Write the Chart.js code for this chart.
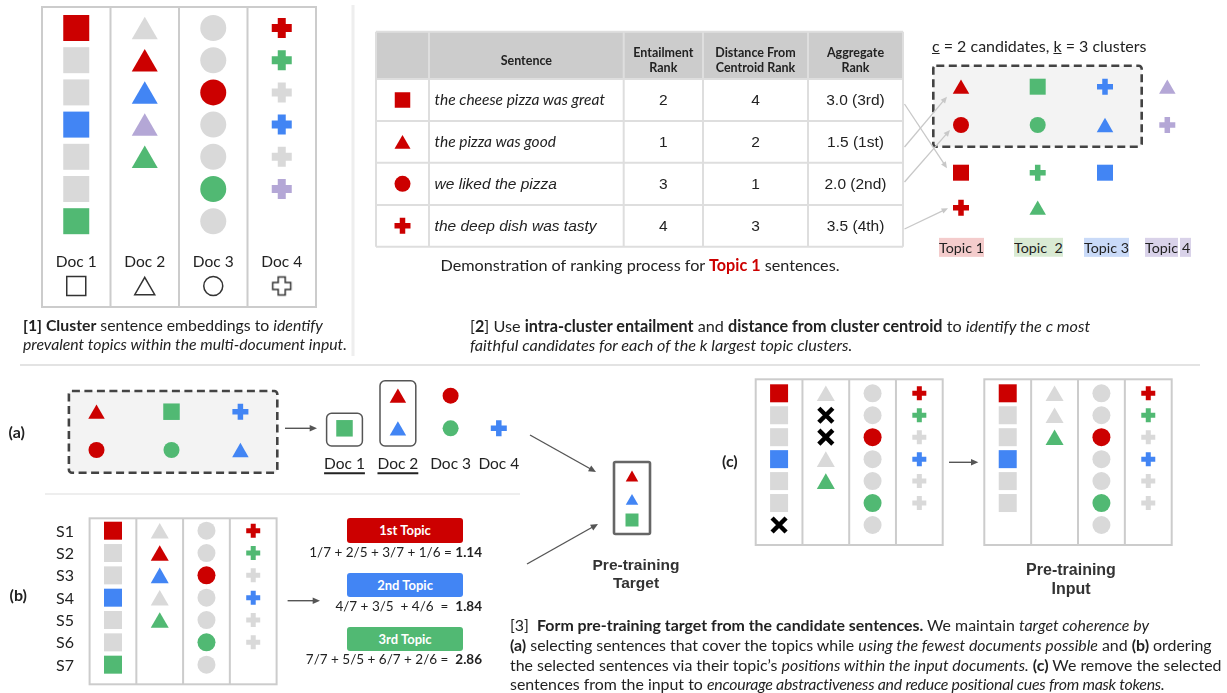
<!DOCTYPE html>
<html>
<head>
<meta charset="utf-8">
<script src="https://cdn.jsdelivr.net/npm/chart.js@4.4.0/dist/chart.umd.min.js"></script>
<style>
  html, body { margin: 0; padding: 0; background: #fff; }
  #wrap { position: relative; width: 1227px; height: 693px; overflow: hidden; font-family: Lato, sans-serif; color: #222; }
  #c { position: absolute; left: 0; top: 0; z-index: 1; }
  #txt { position: absolute; left: 0; top: 0; width: 1227px; height: 693px; z-index: 2; }
  .t { position: absolute; white-space: pre; line-height: 1; }
  .badge { position: absolute; color: #fff; font-weight: bold; font-size: 13px; text-align: center; border-radius: 3px; }
  .tag { padding: 1px 0; }
</style>
</head>
<body>
<div id="wrap">
  <canvas id="c" width="1227" height="693"></canvas>
  <div id="txt"></div>
</div>
<script>
(function () {
  'use strict';

  // ── Colours ──
  var COLORS = {
    r: '#cc0000',   // topic 1
    g: '#51b973',   // topic 2
    b: '#4285f4',   // topic 3
    p: '#b4a7d6',   // topic 4
    n: '#d9d9d9',   // no topic
    x: '#000000',   // removed sentence
    grid: '#cccccc',
    dash: '#434343',
    arrow: '#555555',
    link: '#c8c8c8'
  };

  // ── Data ──
  var DOC_NAMES = ['Doc 1', 'Doc 2', 'Doc 3', 'Doc 4'];
  var DOC_SHAPES = ['square', 'triangle', 'circle', 'plus'];

  // topic of each sentence, one list per document (r,g,b,p = topics, n = none, x = removed)
  var INPUT_DOCS = [
    ['r', 'n', 'n', 'b', 'n', 'n', 'g'],
    ['n', 'r', 'b', 'p', 'g'],
    ['n', 'n', 'r', 'n', 'n', 'g', 'n'],
    ['r', 'g', 'n', 'b', 'n', 'p']
  ];
  var RANKED_DOCS = [
    ['r', 'n', 'n', 'b', 'n', 'n', 'g'],
    ['n', 'r', 'b', 'n', 'g'],
    ['n', 'n', 'r', 'n', 'n', 'g', 'n'],
    ['r', 'g', 'n', 'b', 'n', 'n']
  ];
  var MASKED_DOCS = [
    ['r', 'n', 'n', 'b', 'n', 'n', 'x'],
    ['n', 'x', 'x', 'n', 'g'],
    ['n', 'n', 'r', 'n', 'n', 'g', 'n'],
    ['r', 'g', 'n', 'b', 'n', 'n']
  ];
  var REMAINING_DOCS = [
    ['r', 'n', 'n', 'b', 'n', 'n'],
    ['n', 'n', 'g'],
    ['n', 'n', 'r', 'n', 'n', 'g', 'n'],
    ['r', 'g', 'n', 'b', 'n', 'n']
  ];
  var SENT_LABELS = ['S1', 'S2', 'S3', 'S4', 'S5', 'S6', 'S7'];

  // ranking table for topic 1
  var TABLE_HEAD = ['', 'Sentence', 'Entailment\nRank', 'Distance From\nCentroid Rank', 'Aggregate\nRank'];
  var TABLE_SHAPES = ['square', 'triangle', 'circle', 'plus'];
  var TABLE_SENTENCES = ['the cheese pizza was great', 'the pizza was good', 'we liked the pizza', 'the deep dish was tasty'];
  var ENTAIL_RANK = [2, 1, 3, 4];
  var CENTROID_RANK = [4, 2, 1, 3];
  var AGG_SCORE = ['3.0', '1.5', '2.0', '3.5'];
  var AGG_PLACE = ['3rd', '1st', '2nd', '4th'];

  // topic clusters
  var TOPIC_NAMES = ['Topic 1', 'Topic  2', 'Topic 3', 'Topic 4'];
  var TOPIC_CODES = ['r', 'g', 'b', 'p'];
  var CLUSTER_SHAPES = [
    ['triangle', 'circle', 'square', 'plus'],
    ['square', 'circle', 'plus', 'triangle'],
    ['plus', 'triangle', 'square'],
    ['triangle', 'plus']
  ];
  var N_CANDIDATES = 2;
  var N_CLUSTERS = 3;

  // (a) candidates grouped by document
  var PICKED_BY_DOC = [['g'], ['r', 'b'], ['r', 'g'], ['b']];
  var PICKED_DOCS = [true, true, false, false];
  var TARGET_CODES = ['r', 'b', 'g'];
  var TARGET_SHAPES = ['triangle', 'triangle', 'square'];

  // (b) topic ordering
  var ORDER_NAMES = ['1st Topic', '2nd Topic', '3rd Topic'];
  var ORDER_CODES = ['r', 'b', 'g'];
  var ORDER_TERMS = ['1/7 + 2/5 + 3/7 + 1/6 = ', '4/7 + 3/5  + 4/6  =  ', '7/7 + 5/5 + 6/7 + 2/6 =  '];
  var ORDER_SCORES = ['1.14', '1.84', '2.86'];

  // ── Layout ──
  var W = 1227, H = 693;
  var LAYOUT = {
    p1: { box: [42, 7, 316, 307], y0: 28, dy: 32.2, labelY: 262, iconY: 286, iconSize: 19,
          size: { square: 26, triangle: 26, circle: 26, plus: 20, plusT: 8 } },
    tbl: { cols: [376, 429, 623.7, 703, 808, 903], rows: [31.7, 79, 121, 162.7, 205, 246.7],
           textX: 434.6, arialRows: [false, false, true, true],
           size: { square: 15.5, triangle: 16, circle: 16, plus: 16, plusT: 5.5 } },
    cl: { x: [961, 1037.7, 1105, 1167.3], y: [86.7, 125, 172.7, 207.7], box: [933.3, 65.7, 1141.7, 146.7],
          labelX: [939, 1014, 1084, 1145], labelY: 248, titleX: 932, titleY: 45.7,
          bg: ['#f4cccc', '#d9ead3', '#c9daf8', '#d9d2e9'],
          size: { square: 16, triangle: 16.5, circle: 16, plus: 16, plusT: 5.5 },
          linkStartY: [104, 147, 182, 229], linkTip: [[-14, -4.5], [-14, 10], [-11, 5], [-13, 0.5]] },
    a: { box: [68.9, 391, 277.3, 472.7], candX: [96.5, 171.5, 240.4], candY: [411.7, 450],
         docX: [344.5, 397.9, 450.6, 498.8], docY: [395.7, 428.3], labelY: 464.3,
         size: { square: 16.5, triangle: 16.5, circle: 16, plus: 16, plusT: 5.5 } },
    target: { box: [614, 462, 650, 534], x: 632, y: [476, 499.3, 520],
              size: { square: 13, triangle: 12.5 } },
    b: { box: [89.6, 518.3, 276.6, 684.3], y0: 530.7, dy: 22.33, labelX: 56,
         badgeX: 346.9, badgeW: 116.4, badgeH: 24.4, badgeY: [518.3, 572.7, 626.7],
         termY: [553.3, 606.7, 660], termR: 482,
         size: { square: 18, triangle: 18, circle: 18, plus: 14, plusT: 5 } },
    c: { left: [755.7, 379.3, 942.7, 545], right: [984.3, 379.3, 1171.7, 545], y0: 393.3, dy: 21.95,
         size: { square: 18, triangle: 18, circle: 18, plus: 14, plusT: 5, x: 14, xT: 4.5 } },
    arrows: [
      [285, 428.3, 317, 428.3], [287.6, 600.7, 320, 600.7], [949, 462.3, 978.3, 462.3],
      [530, 435, 596, 472], [527, 564, 598, 524]
    ]
  };

  // ── Marks ──
  var marks = [];

  function addMark(shape, code, x, y, size, extra) {
    var fill = COLORS[code];
    var m = { x: x, y: y, style: 'circle', r: size.circle / 2, fill: fill, stroke: fill, lw: 0 };
    if (code === 'x') {
      m.style = 'crossRot'; m.r = size.x / 1.4142; m.lw = size.xT;
    } else if (shape === 'square') {
      m.style = 'rect'; m.r = size.square / 1.4142;
    } else if (shape === 'triangle') {
      m.style = 'triangle'; m.r = size.triangle / 1.732; m.y = y + m.r / 4;
    } else if (shape === 'plus') {
      m.style = 'cross'; m.r = size.plus / 2; m.lw = size.plusT;
    }
    if (extra) for (var k in extra) m[k] = extra[k];
    marks.push(m);
  }

  function addGrid(docs, box, y0, dy, size) {
    var colW = (box[2] - box[0]) / docs.length;
    for (var ci = 0; ci < docs.length; ci++) {
      for (var ri = 0; ri < docs[ci].length; ri++) {
        addMark(DOC_SHAPES[ci], docs[ci][ri], box[0] + colW * (ci + 0.5), y0 + dy * ri, size);
      }
    }
  }

  function colCenters(box, n) {
    var out = [], w = (box[2] - box[0]) / n;
    for (var i = 0; i < n; i++) out.push(box[0] + w * (i + 0.5));
    return out;
  }

  function hollowPlus(size, arm, lw, color) {
    var s = size + lw * 2 + 2;
    var cv = document.createElement('canvas');
    cv.width = s; cv.height = s;
    var c = cv.getContext('2d');
    var h = size / 2, a = arm / 2, o = s / 2;
    var pts = [[-a, -h], [a, -h], [a, -a], [h, -a], [h, a], [a, a], [a, h], [-a, h], [-a, a], [-h, a], [-h, -a], [-a, -a]];
    c.beginPath();
    for (var i = 0; i < pts.length; i++) c.lineTo(o + pts[i][0], o + pts[i][1]);
    c.closePath();
    c.strokeStyle = color; c.lineWidth = lw; c.stroke();
    return cv;
  }

  // panel 1
  var p1 = LAYOUT.p1;
  addGrid(INPUT_DOCS, p1.box, p1.y0, p1.dy, p1.size);
  var p1Cols = colCenters(p1.box, DOC_NAMES.length);
  var outlineSize = { square: p1.iconSize, triangle: p1.iconSize * 1.05, circle: p1.iconSize, plus: p1.iconSize, plusT: 1 };
  for (var d = 0; d < DOC_SHAPES.length; d++) {
    var outline = { fill: 'rgba(0,0,0,0)', stroke: '#333', lw: 1.5 };
    if (DOC_SHAPES[d] === 'plus') {
      outline = { style: hollowPlus(p1.iconSize - 1, 7, 1.5, '#333'), r: 10 };
    }
    addMark(DOC_SHAPES[d], 'n', p1Cols[d], p1.iconY, outlineSize, outline);
  }

  // table icons
  var tbl = LAYOUT.tbl;
  var iconX = (tbl.cols[0] + tbl.cols[1]) / 2;
  for (var t = 0; t < TABLE_SHAPES.length; t++) {
    addMark(TABLE_SHAPES[t], 'r', iconX, (tbl.rows[t + 1] + tbl.rows[t + 2]) / 2, tbl.size);
  }

  // clusters
  var cl = LAYOUT.cl;
  for (var k = 0; k < CLUSTER_SHAPES.length; k++) {
    for (var j = 0; j < CLUSTER_SHAPES[k].length; j++) {
      addMark(CLUSTER_SHAPES[k][j], TOPIC_CODES[k], cl.x[k], cl.y[j], cl.size);
    }
  }

  // (a) candidates and their documents
  var la = LAYOUT.a;
  for (var ck = 0; ck < N_CLUSTERS; ck++) {
    for (var cj = 0; cj < N_CANDIDATES; cj++) {
      addMark(CLUSTER_SHAPES[ck][cj], TOPIC_CODES[ck], la.candX[ck], la.candY[cj], la.size);
    }
  }
  for (var pd = 0; pd < PICKED_BY_DOC.length; pd++) {
    var list = PICKED_BY_DOC[pd];
    for (var pi = 0; pi < list.length; pi++) {
      addMark(DOC_SHAPES[pd], list[pi], la.docX[pd], la.docY[la.docY.length - list.length + pi], la.size);
    }
  }

  // target
  var tg = LAYOUT.target;
  for (var ti = 0; ti < TARGET_CODES.length; ti++) {
    addMark(TARGET_SHAPES[ti], TARGET_CODES[ti], tg.x, tg.y[ti], tg.size);
  }

  // (b) and (c) grids
  var lb = LAYOUT.b, lc = LAYOUT.c;
  addGrid(RANKED_DOCS, lb.box, lb.y0, lb.dy, lb.size);
  addGrid(MASKED_DOCS, lc.left, lc.y0, lc.dy, lc.size);
  addGrid(REMAINING_DOCS, lc.right, lc.y0, lc.dy, lc.size);

  // ── Frames, boxes and arrows (drawn under the marks) ──
  function roundRect(ctx, x1, y1, x2, y2, r) {
    ctx.beginPath();
    ctx.moveTo(x1 + r, y1);
    ctx.arcTo(x2, y1, x2, y2, r);
    ctx.arcTo(x2, y2, x1, y2, r);
    ctx.arcTo(x1, y2, x1, y1, r);
    ctx.arcTo(x1, y1, x2, y1, r);
    ctx.closePath();
  }

  function arrow(ctx, x1, y1, x2, y2, color, lw, head) {
    var ang = Math.atan2(y2 - y1, x2 - x1);
    ctx.strokeStyle = color; ctx.fillStyle = color; ctx.lineWidth = lw;
    ctx.beginPath();
    ctx.moveTo(x1, y1);
    ctx.lineTo(x2 - Math.cos(ang) * head * 0.7, y2 - Math.sin(ang) * head * 0.7);
    ctx.stroke();
    ctx.beginPath();
    ctx.moveTo(x2, y2);
    ctx.lineTo(x2 - head * Math.cos(ang - 0.42), y2 - head * Math.sin(ang - 0.42));
    ctx.lineTo(x2 - head * Math.cos(ang + 0.42), y2 - head * Math.sin(ang + 0.42));
    ctx.closePath();
    ctx.fill();
  }

  var framePlugin = {
    id: 'frames',
    beforeDatasetsDraw: function (chart) {
      var ctx = chart.ctx, sx = chart.scales.x, sy = chart.scales.y;
      function X(v) { return sx.getPixelForValue(v); }
      function Y(v) { return sy.getPixelForValue(v); }
      ctx.save();

      // separators
      ctx.strokeStyle = '#eeeeee'; ctx.lineWidth = 3;
      ctx.beginPath(); ctx.moveTo(X(353), Y(5)); ctx.lineTo(X(353), Y(356)); ctx.stroke();
      ctx.lineWidth = 2; ctx.strokeStyle = '#e3e3e3';
      ctx.beginPath(); ctx.moveTo(X(20), Y(365)); ctx.lineTo(X(1200), Y(365)); ctx.stroke();
      ctx.strokeStyle = '#eeeeee';
      ctx.beginPath(); ctx.moveTo(X(45), Y(494)); ctx.lineTo(X(520), Y(494)); ctx.stroke();

      // document grids
      [[p1.box, 4], [lb.box, 4], [lc.left, 4], [lc.right, 4]].forEach(function (g) {
        var b = g[0], cw = (b[2] - b[0]) / g[1];
        ctx.strokeStyle = COLORS.grid; ctx.lineWidth = 2;
        ctx.strokeRect(X(b[0]), Y(b[1]), X(b[2]) - X(b[0]), Y(b[3]) - Y(b[1]));
        ctx.beginPath();
        for (var i = 1; i < g[1]; i++) {
          ctx.moveTo(X(b[0] + cw * i), Y(b[1])); ctx.lineTo(X(b[0] + cw * i), Y(b[3]));
        }
        ctx.stroke();
      });

      // ranking table
      var cols = tbl.cols, rows = tbl.rows;
      ctx.fillStyle = '#cccccc';
      ctx.fillRect(X(cols[0]), Y(rows[0]), X(cols[5]) - X(cols[0]), Y(rows[1]) - Y(rows[0]));
      ctx.strokeStyle = '#dedede'; ctx.lineWidth = 2;
      ctx.beginPath();
      rows.forEach(function (r) { ctx.moveTo(X(cols[0]), Y(r)); ctx.lineTo(X(cols[5]), Y(r)); });
      cols.forEach(function (c) { ctx.moveTo(X(c), Y(rows[0])); ctx.lineTo(X(c), Y(rows[5])); });
      ctx.stroke();

      // dashed candidate boxes
      [cl.box, la.box].forEach(function (b) {
        roundRect(ctx, X(b[0]), Y(b[1]), X(b[2]), Y(b[3]), 3);
        ctx.fillStyle = '#f3f3f3'; ctx.fill();
        ctx.setLineDash([8, 4.5]); ctx.strokeStyle = COLORS.dash; ctx.lineWidth = 2.6; ctx.stroke();
        ctx.setLineDash([]);
      });

      // (a) chosen document boxes
      for (var i = 0; i < PICKED_DOCS.length; i++) {
        if (!PICKED_DOCS[i]) continue;
        var n = PICKED_BY_DOC[i].length;
        var top = la.docY[la.docY.length - n] - 15, bot = la.docY[la.docY.length - 1] + 17.7;
        roundRect(ctx, X(la.docX[i] - 17.9), Y(top), X(la.docX[i] + 17.9), Y(bot), 5);
        ctx.strokeStyle = '#555555'; ctx.lineWidth = 1.5; ctx.stroke();
      }

      // target box
      var tb = tg.box;
      roundRect(ctx, X(tb[0]), Y(tb[1]), X(tb[2]), Y(tb[3]), 1.5);
      ctx.strokeStyle = '#666666'; ctx.lineWidth = 2.6; ctx.stroke();

      // table -> cluster links
      for (var s = 0; s < TABLE_SHAPES.length; s++) {
        var j = CLUSTER_SHAPES[0].indexOf(TABLE_SHAPES[s]);
        arrow(ctx, X(cols[5] + 1.5), Y(cl.linkStartY[s]),
          X(cl.x[0] + cl.linkTip[s][0]), Y(cl.y[j] + cl.linkTip[s][1]), COLORS.link, 1.3, 7);
      }

      // process arrows
      LAYOUT.arrows.forEach(function (a) {
        arrow(ctx, X(a[0]), Y(a[1]), X(a[2]), Y(a[3]), COLORS.arrow, 1.4, 8);
      });

      ctx.restore();
    }
  };

  function opt(key, dflt) {
    return function (c) { return c.raw ? c.raw[key] : dflt; };
  }

  new Chart(document.getElementById('c'), {
    type: 'scatter',
    data: {
      datasets: [{
        label: 'sentences',
        data: marks,
        clip: false,
        pointStyle: opt('style', 'circle'),
        pointRadius: opt('r', 0),
        pointBackgroundColor: opt('fill', '#000'),
        pointBorderColor: opt('stroke', '#000'),
        pointBorderWidth: opt('lw', 0),
        pointRotation: 0
      }]
    },
    options: {
      responsive: false,
      animation: false,
      devicePixelRatio: 1,
      events: [],
      layout: { padding: 0, autoPadding: false },
      plugins: { legend: { display: false }, tooltip: { enabled: false } },
      scales: {
        x: { type: 'linear', min: 0, max: W, display: false },
        y: { type: 'linear', min: 0, max: H, reverse: true, display: false }
      }
    },
    plugins: [framePlugin]
  });

  // ── Text ──
  var layer = document.getElementById('txt');

  function put(html, x, y, css, align) {
    var el = document.createElement('div');
    el.className = 't';
    el.innerHTML = html;
    if (css) el.style.cssText += css;
    el.style.left = x + 'px';
    el.style.top = y + 'px';
    var tx = align === 'c' ? '-50%' : (align === 'r' ? '-100%' : '0');
    el.style.transform = 'translate(' + tx + ',-50%)';
    if (align === 'c') el.style.textAlign = 'center';
    layer.appendChild(el);
    return el;
  }

  // panel 1
  for (var dn = 0; dn < DOC_NAMES.length; dn++) {
    put(DOC_NAMES[dn], p1Cols[dn], p1.labelY, 'font-size:15.5px;', 'c');
  }
  put('<b>[1] Cluster</b> sentence embeddings to <i>identify</i>', 23, 325, 'font-size:15.8px;');
  put('<i>prevalent topics within the multi-document input.</i>', 23, 343.5, 'font-size:15.8px;');

  // table text
  for (var hc = 1; hc < TABLE_HEAD.length; hc++) {
    put(TABLE_HEAD[hc].replace('\n', '<br>'), (tbl.cols[hc] + tbl.cols[hc + 1]) / 2, 59.5,
      'font-size:12.5px;font-weight:bold;line-height:15px;', 'c');
  }
  for (var tr = 0; tr < TABLE_SENTENCES.length; tr++) {
    var yc = (tbl.rows[tr + 1] + tbl.rows[tr + 2]) / 2;
    var fam = tbl.arialRows[tr] ? 'font-family:\'Liberation Sans\',Arial,sans-serif;' : '';
    put(TABLE_SENTENCES[tr], tbl.textX, yc, 'font-size:15.5px;font-style:italic;' + fam);
    var cells = [ENTAIL_RANK[tr], CENTROID_RANK[tr], AGG_SCORE[tr] + ' (' + AGG_PLACE[tr] + ')'];
    for (var cc = 0; cc < cells.length; cc++) {
      put(String(cells[cc]), (tbl.cols[cc + 2] + tbl.cols[cc + 3]) / 2, yc,
        'font-size:15.5px;font-family:\'Liberation Sans\',Arial,sans-serif;', 'c');
    }
  }
  put('Demonstration of ranking process for <b style="color:#cc0000">Topic 1</b> sentences.', 640, 264.5, 'font-size:16.2px;', 'c');

  // clusters
  put('<u>c</u> = ' + N_CANDIDATES + ' candidates, <u>k</u> = ' + N_CLUSTERS + ' clusters', cl.titleX, cl.titleY, 'font-size:16px;');
  for (var tn = 0; tn < TOPIC_NAMES.length; tn++) {
    var name = TOPIC_NAMES[tn], html;
    if (tn === TOPIC_NAMES.length - 1) {
      var cut = name.lastIndexOf(' ');
      html = '<span class="tag" style="background:' + cl.bg[tn] + '">' + name.slice(0, cut) + '</span>' +
        '<span class="tag" style="background:' + cl.bg[tn] + ';margin-left:2px;padding:1px 1px 1px 2px">' + name.slice(cut + 1) + '</span>';
    } else {
      html = '<span class="tag" style="background:' + cl.bg[tn] + '">' + name + '</span>';
    }
    put(html, cl.labelX[tn], cl.labelY, 'font-size:14.3px;');
  }

  put('[<b>2</b>] Use <b>intra-cluster entailment</b> and <b>distance from cluster centroid</b> to <i>identify the c most</i>', 470, 326, 'font-size:16.2px;');
  put('<i>faithful candidates for each of the k largest topic clusters.</i>', 470, 344.5, 'font-size:16.2px;');

  // (a)
  put('<b>(a)</b>', 8.6, 431.7, 'font-size:16px;');
  for (var ad = 0; ad < DOC_NAMES.length; ad++) {
    var under = PICKED_DOCS[ad] ? 'text-decoration:underline;text-decoration-thickness:2px;text-underline-offset:3px;' : '';
    put(DOC_NAMES[ad], la.docX[ad], la.labelY, 'font-size:15.5px;' + under, 'c');
  }
  put('Pre-training<br>Target', 636, 574, 'font-size:15.5px;font-weight:bold;color:#333;line-height:18px;font-family:\'Liberation Sans\',Arial,sans-serif;', 'c');

  // (b)
  put('<b>(b)</b>', 9.6, 595, 'font-size:16px;');
  for (var sl = 0; sl < SENT_LABELS.length; sl++) {
    put(SENT_LABELS[sl], lb.labelX, lb.y0 + lb.dy * sl, 'font-size:16px;');
  }
  for (var on = 0; on < ORDER_NAMES.length; on++) {
    var bd = document.createElement('div');
    bd.className = 'badge';
    bd.textContent = ORDER_NAMES[on];
    bd.style.left = lb.badgeX + 'px';
    bd.style.top = lb.badgeY[on] + 'px';
    bd.style.width = lb.badgeW + 'px';
    bd.style.height = lb.badgeH + 'px';
    bd.style.lineHeight = lb.badgeH + 'px';
    bd.style.background = COLORS[ORDER_CODES[on]];
    layer.appendChild(bd);
    put(ORDER_TERMS[on] + '<b>' + ORDER_SCORES[on] + '</b>', lb.termR, lb.termY[on], 'font-size:13.5px;', 'r');
  }

  // (c)
  put('<b>(c)</b>', 722, 460.7, 'font-size:16px;');
  put('Pre-training<br>Input', 1071, 579, 'font-size:16px;font-weight:bold;color:#333;line-height:18.5px;font-family:\'Liberation Sans\',Arial,sans-serif;', 'c');

  // [3] caption
  var cap3 = 'font-size:15.9px;';
  put('[3]  <b>Form pre-training target from the candidate sentences.</b> We maintain <i>target coherence by</i>', 510, 625, cap3);
  put('<b>(a)</b> selecting sentences that cover the topics while <i>using the fewest documents possible</i> and <b>(b)</b> ordering', 510, 645, cap3);
  put('the selected sentences via their topic\u2019s <i>positions within the input documents.</i> <b>(c)</b> We remove the selected', 510, 664.5, cap3);
  put('sentences from the input to <i style="letter-spacing:-0.25px">encourage abstractiveness and reduce positional cues from mask tokens.</i>', 510, 684, cap3);
})();
</script>
</body>
</html>
